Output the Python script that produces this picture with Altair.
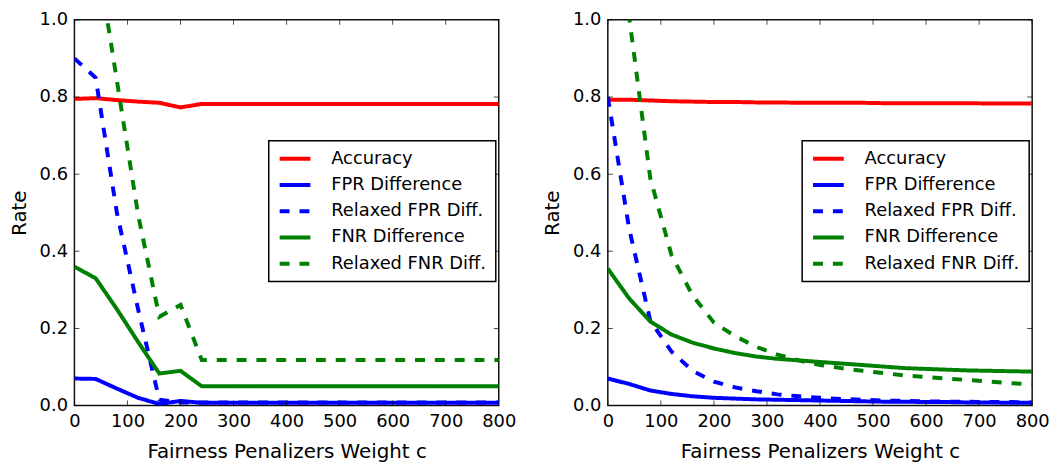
import altair as alt
import pandas as pd

# ---------------- data ----------------
c_values = list(range(0, 801, 40))

series_names = ["Accuracy", "FPR Difference", "Relaxed FPR Diff.",
                "FNR Difference", "Relaxed FNR Diff."]
series_colors = ["#ff0000", "#0000ff", "#0000ff", "#008000", "#008000"]
series_dashes = [[1, 0], [1, 0], [10, 10], [1, 0], [10, 10]]

# left panel
left_accuracy = [0.795, 0.797, 0.792, 0.788, 0.785, 0.773, 0.782, 0.782, 0.782, 0.782,
                 0.782, 0.782, 0.782, 0.782, 0.782, 0.782, 0.782, 0.782, 0.782, 0.782, 0.782]
left_fpr = [0.070, 0.069, 0.044, 0.020, 0.004, 0.012, 0.007, 0.007, 0.007, 0.007,
            0.007, 0.007, 0.007, 0.007, 0.007, 0.007, 0.007, 0.007, 0.007, 0.007, 0.007]
left_relaxed_fpr = [0.900, 0.850, 0.500, 0.250, 0.015, 0.008, 0.008, 0.008, 0.008, 0.008,
                    0.008, 0.008, 0.008, 0.008, 0.008, 0.008, 0.008, 0.008, 0.008, 0.008, 0.008]
left_fnr = [0.360, 0.330, 0.250, 0.165, 0.083, 0.090, 0.050, 0.050, 0.050, 0.050,
            0.050, 0.050, 0.050, 0.050, 0.050, 0.050, 0.050, 0.050, 0.050, 0.050, 0.050]
left_relaxed_fnr = [1.550, 1.190, 0.843, 0.495, 0.230, 0.261, 0.118, 0.118, 0.118, 0.118,
                    0.118, 0.118, 0.118, 0.118, 0.118, 0.118, 0.118, 0.118, 0.118, 0.118, 0.118]

# right panel
right_accuracy = [0.793, 0.793, 0.791, 0.789, 0.788, 0.787, 0.787, 0.786, 0.786, 0.785,
                  0.785, 0.785, 0.785, 0.784, 0.784, 0.784, 0.784, 0.784, 0.783, 0.783, 0.783]
right_fpr = [0.070, 0.056, 0.039, 0.030, 0.024, 0.020, 0.018, 0.016, 0.015, 0.014,
             0.013, 0.012, 0.011, 0.010, 0.010, 0.009, 0.009, 0.008, 0.008, 0.007, 0.007]
right_relaxed_fpr = [0.800, 0.460, 0.220, 0.140, 0.090, 0.062, 0.047, 0.037, 0.029, 0.024,
                     0.020, 0.017, 0.015, 0.013, 0.012, 0.011, 0.010, 0.010, 0.009, 0.009, 0.008]
right_fnr = [0.355, 0.278, 0.218, 0.184, 0.163, 0.148, 0.136, 0.127, 0.121, 0.117,
             0.113, 0.109, 0.105, 0.101, 0.097, 0.095, 0.093, 0.091, 0.090, 0.089, 0.088]
right_relaxed_fnr = [2.200, 1.010, 0.590, 0.390, 0.285, 0.215, 0.180, 0.152, 0.132, 0.117,
                     0.105, 0.097, 0.090, 0.084, 0.078, 0.074, 0.070, 0.066, 0.062, 0.058, 0.055]

x_ticks = [0, 100, 200, 300, 400, 500, 600, 700, 800]
y_ticks = [0.0, 0.2, 0.4, 0.6, 0.8, 1.0]

X_TITLE = "Fairness Penalizers Weight c"
Y_TITLE = "Rate"


def long_frame(columns):
    rows = []
    for name, vals in zip(series_names, columns):
        for c, v in zip(c_values, vals):
            rows.append({"c": c, "rate": v, "series": name})
    return pd.DataFrame(rows)


left_df = long_frame([left_accuracy, left_fpr, left_relaxed_fpr, left_fnr, left_relaxed_fnr])
right_df = long_frame([right_accuracy, right_fpr, right_relaxed_fpr, right_fnr, right_relaxed_fnr])
xt_df = pd.DataFrame({"v": x_ticks})
yt_df = pd.DataFrame({"v": y_ticks})

W, H = 428, 389


def panel(df):
    xs = alt.Scale(domain=[0, 800], nice=False, zero=False)
    ys = alt.Scale(domain=[0, 1], nice=False)
    x_axis = alt.Axis(values=x_ticks, labelPadding=7, titlePadding=11, labelFlush=False)
    y_axis = alt.Axis(values=y_ticks, format=".1f", labelPadding=7, titlePadding=10, labelFlush=False)
    legend = alt.Legend(title=None, orient="none", legendX=196, legendY=122)

    lines = alt.Chart(df).mark_line(clip=True, strokeWidth=4, strokeCap="butt").encode(
        x=alt.X("c:Q", scale=xs, axis=x_axis, title=X_TITLE),
        y=alt.Y("rate:Q", scale=ys, axis=y_axis, title=Y_TITLE),
        color=alt.Color("series:N", scale=alt.Scale(domain=series_names, range=series_colors),
                        legend=legend, title=None),
        strokeDash=alt.StrokeDash("series:N", scale=alt.Scale(domain=series_names, range=series_dashes),
                                  legend=legend, title=None),
    )
    tick_style = dict(size=10, thickness=1, color="black", clip=True)
    bottom = alt.Chart(xt_df).mark_tick(orient="vertical", **tick_style).encode(
        x=alt.X("v:Q", scale=xs, title=X_TITLE), y=alt.datum(0.0))
    top = alt.Chart(xt_df).mark_tick(orient="vertical", **tick_style).encode(
        x=alt.X("v:Q", scale=xs, title=X_TITLE), y=alt.datum(1.0))
    left = alt.Chart(yt_df).mark_tick(orient="horizontal", **tick_style).encode(
        y=alt.Y("v:Q", scale=ys, title=Y_TITLE), x=alt.datum(0))
    right = alt.Chart(yt_df).mark_tick(orient="horizontal", **tick_style).encode(
        y=alt.Y("v:Q", scale=ys, title=Y_TITLE), x=alt.datum(800))
    return alt.layer(lines, bottom, top, left, right).properties(width=W, height=H)


chart = alt.hconcat(panel(left_df), panel(right_df), spacing=25).resolve_legend(
    color="independent", strokeDash="independent"
).resolve_scale(
    color="independent", strokeDash="independent"
).properties(
    padding={"left": 0, "top": 0, "right": 0, "bottom": 0}
).configure(
    font="DejaVu Sans",
).configure_view(
    stroke="#111111", strokeWidth=1.5
).configure_axis(
    domain=False, ticks=False, grid=False,
    labelFont="DejaVu Sans", labelFontSize=18, labelColor="black",
    titleFont="DejaVu Sans", titleFontSize=20, titleFontWeight="normal", titleColor="black",
).configure_legend(
    labelFont="DejaVu Sans", labelFontSize=18, labelColor="black",
    symbolType="stroke", symbolSize=961, symbolStrokeWidth=4,
    labelOffset=19, padding=9, rowPadding=8.5, clipHeight=18,
    strokeColor="black", fillColor="white", strokeWidth=1.5, cornerRadius=0,
)

chart.save("out.html", embed_options={"renderer": "svg", "actions": False})
